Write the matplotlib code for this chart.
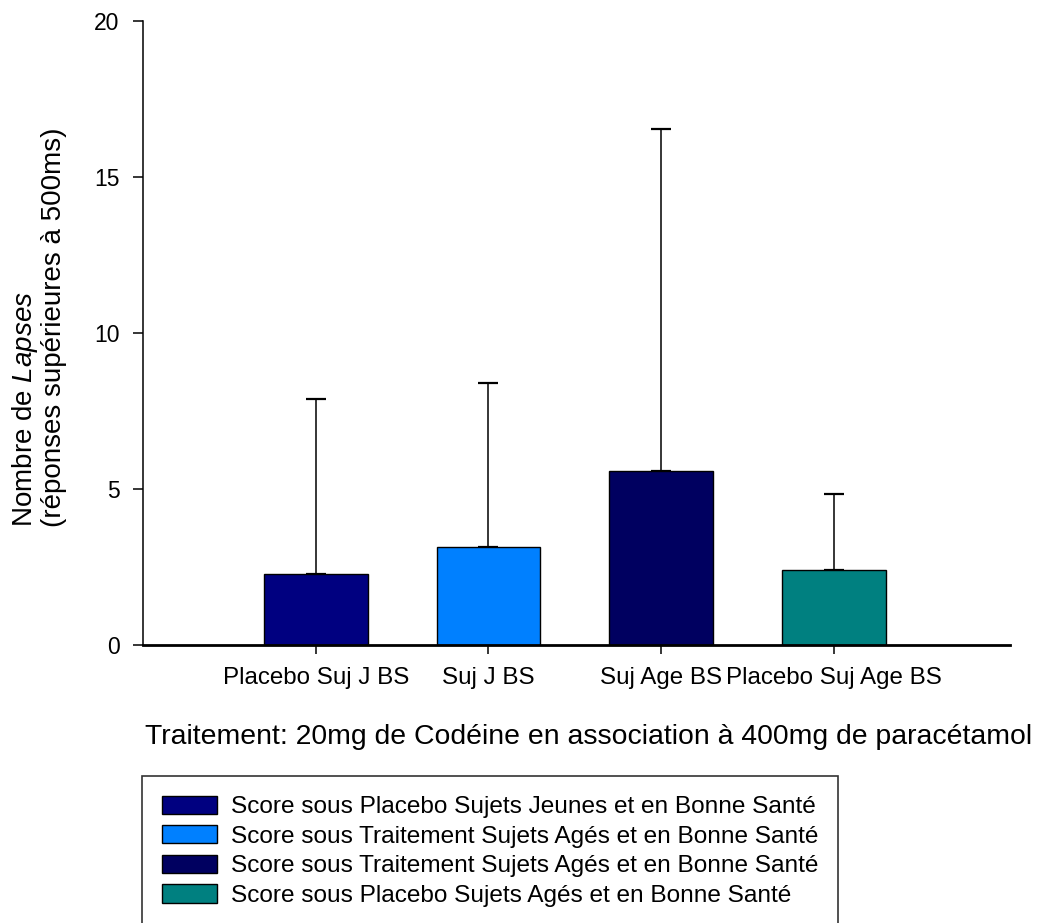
import matplotlib
matplotlib.use("Agg")
import matplotlib.pyplot as plt
from matplotlib.patches import Patch

plt.rcParams['font.family'] = ['Liberation Sans', 'DejaVu Sans']
plt.rcParams['mathtext.fontset'] = 'custom'
plt.rcParams['mathtext.rm'] = 'Liberation Sans'
plt.rcParams['mathtext.it'] = 'Liberation Sans:italic'

categories = ["Placebo Suj J BS", "Suj J BS", "Suj Age BS", "Placebo Suj Age BS"]
means = [2.27, 3.14, 5.59, 2.39]
err_upper = [5.60, 5.27, 10.94, 2.46]
colors = ["#000080", "#0080FF", "#000060", "#008080"]
legend_labels = [
    "Score sous Placebo Sujets Jeunes et en Bonne Santé",
    "Score sous Traitement Sujets Agés et en Bonne Santé",
    "Score sous Traitement Sujets Agés et en Bonne Santé",
    "Score sous Placebo Sujets Agés et en Bonne Santé",
]
yticks = [0, 5, 10, 15, 20]

W, H = 1038, 923
fig = plt.figure(figsize=(W/100, H/100), dpi=100)
ax_l, ax_r, ax_b, ax_t = 143, 1010, 645, 21
ax = fig.add_axes([ax_l/W, 1-ax_b/H, (ax_r-ax_l)/W, (ax_b-ax_t)/H])

x = list(range(len(categories)))
ax.bar(x, means, width=0.6, color=colors, edgecolor="black", linewidth=1.0, zorder=2)
ax.errorbar(x, means, yerr=[[0]*len(means), err_upper], fmt="none", ecolor="black",
            elinewidth=1.1, capsize=7, capthick=1.6, zorder=1)

ax.set_xlim(-1.0, 4.02)
ax.set_ylim(0, 20)
ax.set_yticks(yticks)
ax.set_xticks(x)
ax.set_xticklabels(categories, fontsize=17.4)
ax.tick_params(axis='y', labelsize=16.5, length=7, width=1.1, direction='out', pad=10)
ax.tick_params(axis='x', length=6.5, width=1.1, direction='out', pad=9)
for s in ['top', 'right']:
    ax.spines[s].set_visible(False)
ax.spines['bottom'].set_linewidth(2.0)
ax.spines['left'].set_linewidth(1.1)

ax.set_ylabel("Nombre de $\\mathit{Lapses}$\n(réponses supérieures à 500ms)", fontsize=20,
              linespacing=1.05, multialignment='left')
ax.yaxis.set_label_coords((67-ax_l)/(ax_r-ax_l), (ax_b-327.5)/(ax_b-ax_t))

ax.set_xlabel("Traitement: 20mg de Codéine en association à 400mg de paracétamol",
              fontsize=20.4)
ax.xaxis.set_label_coords((588.5-ax_l)/(ax_r-ax_l), (ax_b-724)/(ax_b-ax_t))

handles = [Patch(facecolor=c, edgecolor="black", linewidth=1.0) for c in colors]
leg = fig.legend(handles, legend_labels, loc="upper left",
                 bbox_to_anchor=(142/W, 1-776/H), fontsize=17.6,
                 frameon=True, fancybox=False, edgecolor="black",
                 handlelength=2.25, handleheight=0.78, handletextpad=0.6,
                 labelspacing=0.28, borderpad=0.8, borderaxespad=0)
leg.get_frame().set_linewidth(1.2)

fig.savefig("out.png", dpi=100)
